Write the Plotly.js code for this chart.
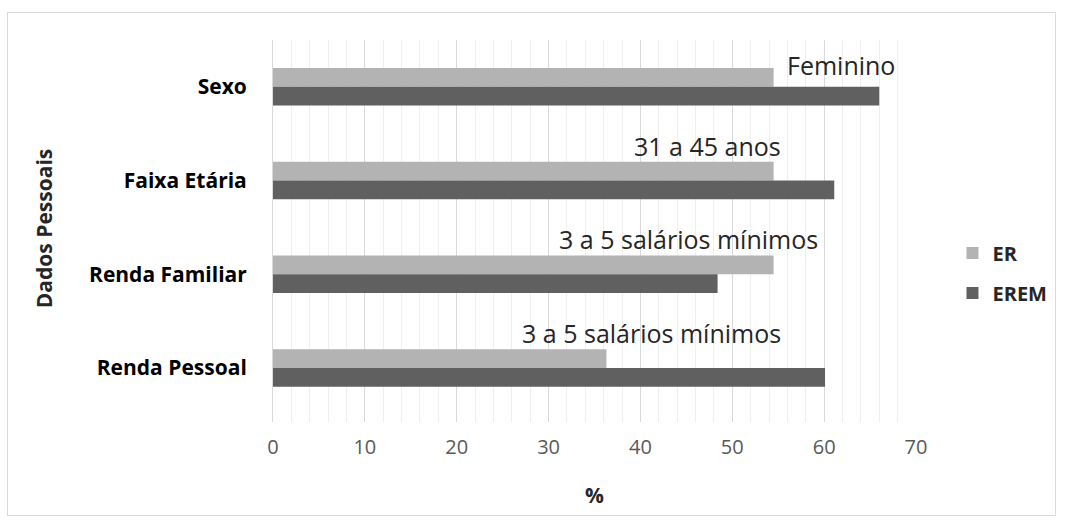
<!DOCTYPE html>
<html>
<head>
<meta charset="utf-8">
<script src="https://cdn.plot.ly/plotly-3.0.1.min.js"></script>
<style>
html,body{margin:0;padding:0;background:#fff;}
#chart{width:1065px;height:525px;}
#frame{position:absolute;left:7px;top:12px;width:1047px;height:502px;border:1px solid #d9d9d9;pointer-events:none;}
</style>
</head>
<body>
<div id="chart"></div>
<div id="frame"></div>
<script>
// ---- data ----
const categories = ['Sexo', 'Faixa Etária', 'Renda Familiar', 'Renda Pessoal'];
const erValues = [54.5, 54.5, 54.5, 36.3];
const eremValues = [66.0, 61.1, 48.4, 60.1];
const barLabels = ['Feminino', '31 a 45 anos', '3 a 5 salários mínimos', '3 a 5 salários mínimos'];
const xTickValues = [0, 10, 20, 30, 40, 50, 60, 70];
const seriesNames = ['ER', 'EREM'];

// ---- layout helpers ----
const FONT = 'Open Sans, sans-serif';
const labelCenterX = [61.8, 47.3, 45.2, 41.2];
const labelShiftY = [22, 35, 35, 35];

const traces = [
  {type: 'bar', orientation: 'h', name: seriesNames[0], y: categories, x: erValues,
   marker: {color: '#b3b3b3'}, legendgroup: 'a', hoverinfo: 'x'},
  {type: 'bar', orientation: 'h', name: seriesNames[1], y: categories, x: eremValues,
   marker: {color: '#606060'}, legendgroup: 'b', hoverinfo: 'x'}
];

const annotations = barLabels.map((t, i) => ({
  text: t, x: labelCenterX[i], y: categories[i], xref: 'x', yref: 'y',
  xanchor: 'center', yanchor: 'middle', yshift: labelShiftY[i], showarrow: false,
  font: {family: FONT, size: 25, color: '#262626'}
}));
annotations.push({
  text: '<b>Dados Pessoais</b>', textangle: -90, xref: 'paper', yref: 'paper',
  x: (44 - 273) / 643.5, y: (422 - 229) / 382, xanchor: 'center', yanchor: 'middle',
  showarrow: false, font: {family: FONT, size: 21, color: '#262626'}
});
annotations.push({
  text: '<b>%</b>', xref: 'paper', yref: 'paper',
  x: 0.5, y: (422 - 495) / 382, xanchor: 'center', yanchor: 'middle',
  showarrow: false, font: {family: FONT, size: 21, color: '#262626'}
});

const layout = {
  width: 1065, height: 525,
  margin: {l: 273, r: 148.5, t: 40, b: 103},
  paper_bgcolor: '#ffffff', plot_bgcolor: '#ffffff',
  barmode: 'group', bargap: 0.6, bargroupgap: 0,
  showlegend: true,
  legend: {
    x: (953 - 273) / 643.5, xanchor: 'left', y: (422 - 273) / 382, yanchor: 'middle',
    traceorder: 'grouped', tracegroupgap: 11,
    font: {family: FONT, size: 20, color: '#262626', weight: 'bold'},
    bgcolor: 'rgba(0,0,0,0)'
  },
  xaxis: {
    range: [0, 70], tickvals: xTickValues, ticktext: xTickValues.map(String),
    showgrid: true, gridcolor: '#d9d9d9', gridwidth: 1,
    minor: {dtick: 2, showgrid: true, gridcolor: '#efefef', gridwidth: 1, ticks: ''},
    zeroline: false, showline: false, ticks: '',
    ticklabelstandoff: 11,
    tickfont: {family: FONT, size: 20, color: '#595959'},
    fixedrange: true
  },
  yaxis: {
    type: 'category', autorange: 'reversed',
    showgrid: false, zeroline: false, showline: true, linecolor: '#d9d9d9', linewidth: 1,
    ticks: '', ticklabelstandoff: 21,
    tickfont: {family: FONT, size: 21, color: '#000000', weight: 'bold'},
    fixedrange: true
  },
  annotations: annotations
};

Plotly.newPlot('chart', traces, layout, {displayModeBar: false, staticPlot: true});
</script>
</body>
</html>
